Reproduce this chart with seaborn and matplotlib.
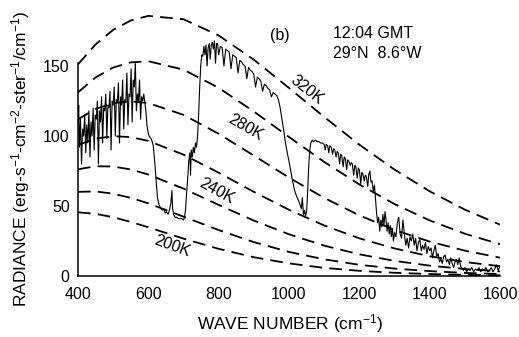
import numpy as np
import pandas as pd
import matplotlib.pyplot as plt
import seaborn as sns

# ---------------------------------------
# Data
# ---------------------------------------
# Blackbody reference curves, radiance at these wave numbers
CURVE_WN = [400, 450, 500, 550, 600, 700, 800, 900, 1000, 1100, 1200, 1300, 1400, 1500, 1600]
CURVE_320K = [151.2, 165.4, 175.8, 182.5, 185.8, 183.4, 171.8, 154.5, 134.3, 113.6, 93.8, 76.0, 60.5, 47.4, 36.7]
CURVE_300K = [131.2, 141.8, 148.9, 152.6, 153.4, 147.4, 134.4, 117.5, 99.3, 81.5, 65.4, 51.4, 39.7, 30.2, 22.7]
CURVE_280K = [111.9, 119.3, 123.5, 124.8, 123.5, 115.1, 101.6, 86.0, 70.3, 55.8, 43.3, 32.9, 24.6, 18.1, 13.1]
CURVE_260K = [93.6, 98.1, 99.9, 99.2, 96.5, 86.7, 73.8, 60.1, 47.3, 36.1, 26.9, 19.7, 14.1, 10.0, 7.0]
CURVE_240K = [76.2, 78.4, 78.2, 76.1, 72.5, 62.4, 50.8, 39.6, 29.8, 21.7, 15.5, 10.8, 7.4, 5.0, 3.3]
CURVE_220K = [60.1, 60.4, 58.8, 55.8, 51.9, 42.4, 32.8, 24.2, 17.2, 11.9, 8.0, 5.3, 3.5, 2.2, 1.4]
CURVE_200K = [45.5, 44.4, 42.0, 38.6, 34.8, 26.7, 19.4, 13.4, 9.0, 5.8, 3.7, 2.3, 1.4, 0.8, 0.5]

CURVES = {
    "320K": CURVE_320K, "300K": CURVE_300K, "280K": CURVE_280K, "260K": CURVE_260K,
    "240K": CURVE_240K, "220K": CURVE_220K, "200K": CURVE_200K,
}

# Measured spectrum
SPEC_WN = [
    400, 402, 404, 407, 410, 413, 416, 419, 422, 425, 428, 431, 434, 437, 440, 443, 446, 449,
    452, 455, 458, 461, 464, 467, 470, 473, 476, 479, 482, 485, 488, 491, 494, 497, 500, 503,
    506, 509, 512, 515, 518, 521, 524, 527, 530, 533, 536, 539, 542, 545, 548, 551, 554, 557,
    560, 563, 566, 569, 572, 575, 578, 581, 584, 587, 590, 593, 596, 599, 602, 605, 608, 611,
    614, 617, 620, 623, 626, 629, 632, 636, 640, 644, 648, 652, 656, 660, 664, 667, 669, 672,
    676, 680, 685, 690, 695, 700, 703, 706, 709, 712, 715, 718, 720, 722, 725, 728, 731, 734,
    737, 740, 743, 746, 749, 752, 755, 758, 761, 764, 767, 770, 773, 776, 779, 782, 785, 788,
    791, 794, 797, 800, 805, 810, 815, 820, 825, 830, 835, 840, 845, 850, 855, 860, 865, 870,
    875, 880, 885, 890, 895, 900, 905, 910, 915, 920, 925, 930, 935, 940, 945, 950, 955, 960,
    965, 970, 975, 980, 985, 990, 995, 1000, 1005, 1010, 1015, 1020, 1025, 1030, 1035, 1038,
    1041, 1044, 1047, 1050, 1053, 1056, 1059, 1062, 1066, 1070, 1075, 1080, 1085, 1090, 1095,
    1100, 1103, 1106, 1110, 1113, 1116, 1120, 1124, 1127, 1130, 1134, 1137, 1140, 1144, 1147,
    1150, 1154, 1157, 1160, 1164, 1167, 1170, 1174, 1177, 1180, 1184, 1187, 1190, 1194, 1197,
    1200, 1204, 1207, 1210, 1214, 1217, 1220, 1224, 1227, 1230, 1233, 1236, 1240, 1243, 1246,
    1249, 1252, 1255, 1258, 1261, 1264, 1267, 1270, 1273, 1276, 1279, 1282, 1285, 1288, 1291,
    1294, 1297, 1300, 1304, 1308, 1312, 1316, 1320, 1324, 1328, 1332, 1336, 1340, 1344, 1348,
    1352, 1356, 1360, 1364, 1368, 1372, 1376, 1380, 1384, 1388, 1392, 1396, 1400, 1404, 1408,
    1412, 1416, 1420, 1424, 1428, 1432, 1436, 1440, 1444, 1448, 1452, 1456, 1460, 1464, 1468,
    1472, 1476, 1480, 1484, 1488, 1492, 1496, 1500, 1505, 1510, 1515, 1520, 1525, 1530, 1535,
    1540, 1545, 1550, 1555, 1560, 1565, 1570, 1575, 1580, 1585, 1590, 1595, 1600,
]
SPEC_RAD = [
    110, 122, 92, 112, 80, 105, 100, 115, 88, 108, 95, 118, 85, 110, 100, 120, 90, 115,
    112, 125, 80, 118, 110, 128, 95, 120, 118, 130, 98, 122, 120, 132, 90, 125, 122, 135,
    100, 126, 124, 138, 95, 128, 122, 140, 105, 126, 124, 145, 108, 130, 128, 148, 110, 140,
    135, 153, 118, 130, 125, 140, 112, 128, 125, 130, 124, 118, 108, 103, 100, 99, 98, 96,
    93, 85, 75, 65, 56, 52, 50, 48, 47, 48, 45, 46, 44, 47, 52, 61, 48, 44,
    42, 42, 41, 41, 41, 40, 42, 48, 60, 70, 82, 88, 72, 90, 85, 92, 88, 95,
    92, 100, 115, 135, 150, 158, 157, 164, 158, 165, 150, 163, 166, 155, 165, 167, 162, 168,
    152, 166, 166, 158, 164, 163, 150, 162, 161, 160, 148, 158, 157, 156, 145, 154, 153, 151,
    150, 141, 149, 147, 146, 144, 135, 142, 141, 139, 132, 137, 136, 134, 133, 128, 131, 130,
    129, 126, 120, 112, 104, 95, 88, 82, 75, 68, 62, 58, 55, 52, 48, 56,
    44, 47, 43, 46, 60, 78, 90, 95, 97, 96, 97, 96, 96, 95, 95,
    94, 90, 94, 93, 88, 93, 92, 87, 91, 90, 85, 89, 88, 80, 87,
    86, 78, 85, 84, 76, 83, 82, 79, 81, 80, 72, 79, 78, 70, 77,
    76, 66, 74, 73, 68, 72, 71, 64, 73, 75, 67, 68, 60, 65, 55,
    45, 38, 42, 32, 40, 35, 44, 36, 46, 40, 32, 38, 30, 36, 28,
    34, 25, 31, 28, 38, 42, 30, 27, 40, 30, 22, 27, 20, 28, 25,
    30, 22, 27, 18, 24, 26, 18, 22, 19, 24, 16, 21, 18, 20, 13,
    18, 22, 14, 16, 10, 12, 9, 14, 15, 10, 12, 8, 13, 9, 6,
    10, 12, 8, 13, 7, 5, 4, 6, 3, 5, 4, 6, 3, 5, 4,
    6, 3, 5, 4, 6, 3, 4, 6, 3, 5, 8, 4, 7,
]

XTICKS = [400, 600, 800, 1000, 1200, 1400, 1600]
YTICKS = [0, 50, 100, 150]

# curve label: (text, x, y, rotation)
CURVE_LABELS = [
    ("320K", 1052, 133, -38),
    ("280K", 878, 106, -30),
    ("240K", 795, 61, -29),
    ("200K", 668, 21, -20),
]

# ---------------------------------------
# Settings
# ---------------------------------------
sns.set_theme(style="white")
plt.rcParams["font.family"] = ["Liberation Sans", "DejaVu Sans"]
plt.rcParams["mathtext.fontset"] = "custom"
plt.rcParams["mathtext.rm"] = "Liberation Sans"
plt.rcParams["mathtext.it"] = "Liberation Sans"
plt.rcParams["text.color"] = "black"
plt.rcParams["axes.labelcolor"] = "black"
FS = 11.5
LABEL_FS = 12.5


def main() -> None:
    fig = plt.figure(figsize=(5.19, 3.37), dpi=100)
    ax = fig.add_axes([78 / 519, 61 / 337, 422 / 519, 266 / 337])

    curves = pd.DataFrame(CURVES)
    curves["wn"] = CURVE_WN
    for name in CURVES:
        sns.lineplot(x="wn", y=name, data=curves, color="black", lw=1.3, ax=ax)
        ax.lines[-1].set_dashes([7, 4])

    spec = pd.DataFrame({"wn": SPEC_WN, "rad": SPEC_RAD})
    sns.lineplot(x="wn", y="rad", data=spec, color="black", lw=0.8, sort=False, ax=ax)

    for text, x, y, rot in CURVE_LABELS:
        ax.text(x, y, text, fontsize=FS, rotation=rot, ha="center", va="center",
                rotation_mode="anchor", color="black")

    ax.text(945, 172, "(b)", fontsize=FS, ha="left", va="center")
    ax.text(1124, 173.5, "12:04 GMT", fontsize=FS, ha="left", va="center")
    ax.text(1124, 159, "29°N  8.6°W", fontsize=FS, ha="left", va="center")

    ax.set_xlim(400, 1600)
    ax.set_ylim(0, 190)
    ax.set_xticks(XTICKS)
    ax.set_yticks(YTICKS)
    ax.tick_params(direction="in", length=5, width=1, colors="black", labelsize=FS)
    ax.tick_params(axis="x", pad=8)
    ax.tick_params(axis="y", pad=6)

    sns.despine(ax=ax)
    ax.spines["left"].set_bounds(0, 152)
    for side in ("left", "bottom"):
        ax.spines[side].set_color("black")
        ax.spines[side].set_linewidth(1.1)

    ax.set_xlabel("WAVE NUMBER (cm$^{-1}$)", fontsize=LABEL_FS)
    ax.set_ylabel("RADIANCE (erg-s$^{-1}$-cm$^{-2}$-ster$^{-1}$/cm$^{-1}$)", fontsize=LABEL_FS)
    ax.xaxis.set_label_coords(0.502, -0.135)
    ax.yaxis.set_label_coords(-0.11, 0.44)

    fig.savefig("out.png", dpi=100)
    plt.close(fig)


if __name__ == "__main__":
    main()
